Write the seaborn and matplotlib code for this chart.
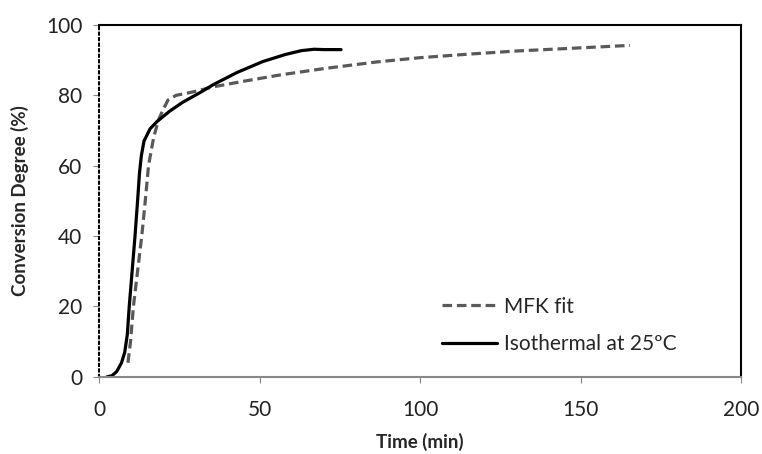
import matplotlib
matplotlib.use('Agg')
import matplotlib.pyplot as plt
import seaborn as sns
import pandas as pd

# values
iso_time = [2.5, 4, 5.5, 7, 8, 8.8, 9.4, 10.3, 11.2, 12, 12.6, 13.2, 14, 15.9, 18, 22, 26,
            31.5, 35.5, 43, 51, 58, 63, 67, 70, 75.4]
iso_conv = [0, 0.3, 1.5, 4, 7, 12, 20, 30, 40, 50, 58, 63, 67, 70.5, 72.5, 75.5, 78,
            80.8, 83, 86.5, 89.6, 91.6, 92.7, 93.1, 93, 93]

mfk_time = [9, 9.8, 10.7, 12, 13.3, 14.4, 15.4, 17, 18.5, 20, 21.5, 24, 29.4, 35.5, 45,
            56.4, 70, 86.6, 100, 115, 130, 150, 165.4]
mfk_conv = [4, 10, 20, 30, 40, 50, 60, 68, 73, 76, 78.7, 80, 81, 82.4, 84,
            85.8, 87.6, 89.5, 90.7, 91.7, 92.6, 93.5, 94.2]

sns.set_style('white')
plt.rcParams['font.family'] = ['Lato', 'DejaVu Sans']

fig = plt.figure(figsize=(7.62, 4.54), dpi=100)
ax = fig.add_axes([0.130, 0.170, 0.8425, 0.775])

mfk = pd.DataFrame({'t': mfk_time, 'c': mfk_conv})
iso = pd.DataFrame({'t': iso_time, 'c': iso_conv})
sns.lineplot(data=mfk, x='t', y='c', ax=ax, color='#595959', lw=2.3, linestyle=(0, (3, 1.5)),
             label='MFK fit', sort=False)
sns.lineplot(data=iso, x='t', y='c', ax=ax, color='black', lw=2.3, label='Isothermal at 25ºC',
             sort=False)

ax.set_xlim(0, 200)
ax.set_ylim(0, 100)
ax.set_xticks([0, 50, 100, 150, 200])
ax.set_yticks([0, 20, 40, 60, 80, 100])
ax.tick_params(axis='both', labelsize=15, length=4, direction='out', color='#888888',
               labelcolor='#222222', left=True, bottom=True)
ax.tick_params(axis='y', pad=8)
ax.tick_params(axis='x', pad=13)

ax.spines['top'].set_color('black')
ax.spines['right'].set_color('black')
ax.spines['top'].set_linewidth(1.5)
ax.spines['right'].set_linewidth(1.5)
ax.spines['bottom'].set_color('#888888')
ax.spines['bottom'].set_linewidth(1.5)
ax.spines['left'].set_color('black')
ax.spines['left'].set_linestyle(':')
ax.spines['left'].set_linewidth(1.5)

ax.set_xlabel('Time (min)', fontsize=13.5, fontweight='bold', labelpad=9)
ax.set_ylabel('Conversion Degree (%)', fontsize=13.5, fontweight='bold', labelpad=12)

ax.legend(loc='center left', bbox_to_anchor=(0.534, 0.146), frameon=False, fontsize=15,
          handlelength=2.65, handletextpad=0.35, labelspacing=0.85,
          borderpad=0, borderaxespad=0)

fig.savefig('out.png', dpi=100)
